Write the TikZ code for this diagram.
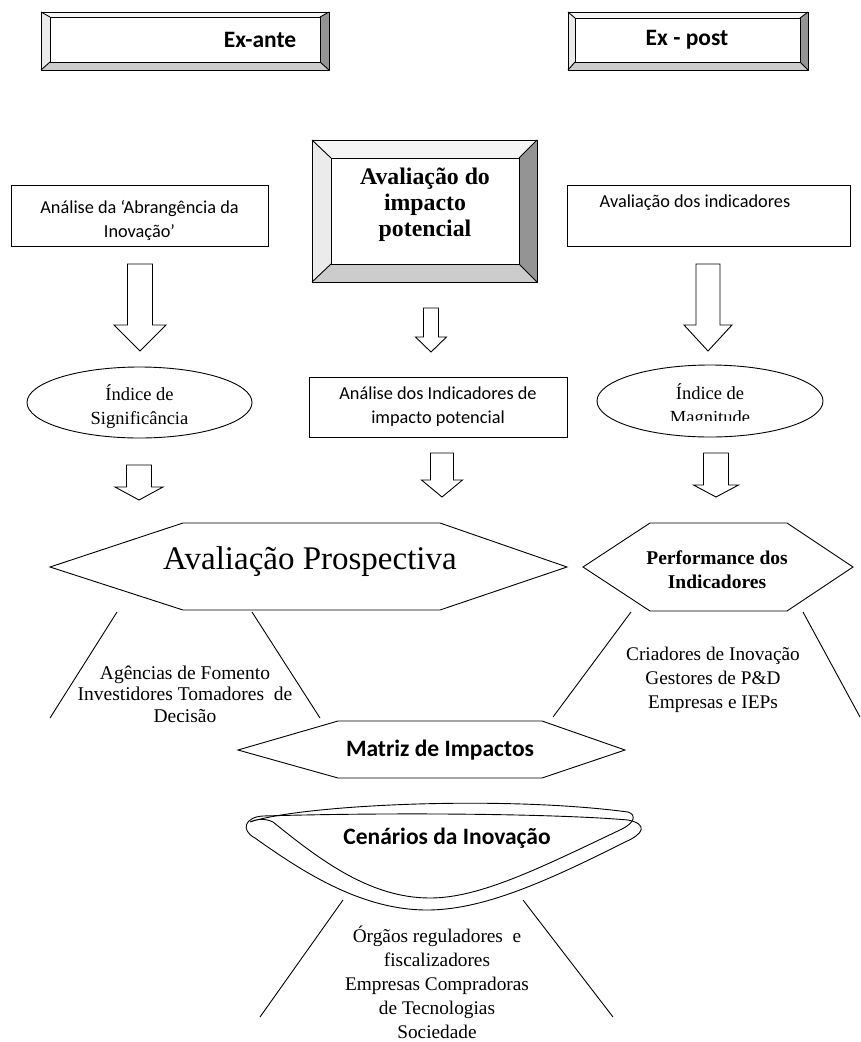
\documentclass[tikz,border=0pt]{standalone}
\usepackage{fontspec}
\setmainfont{Liberation Serif}
\newfontfamily\calibri{Carlito}
\usetikzlibrary{shapes.geometric}

% bevelled frame: outer x1 y1 x2 y2, inner x1 y1 x2 y2
\newcommand{\bevelframe}[8]{%
  \fill[beveltop] (#1,#2) -- (#3,#2) -- (#7,#6) -- (#5,#6) -- cycle;
  \fill[bevelleft] (#1,#2) -- (#5,#6) -- (#5,#8) -- (#1,#4) -- cycle;
  \fill[bevelright] (#3,#2) -- (#3,#4) -- (#7,#8) -- (#7,#6) -- cycle;
  \fill[bevelbottom] (#1,#4) -- (#3,#4) -- (#7,#8) -- (#5,#8) -- cycle;
  \draw[line] (#1,#2) rectangle (#3,#4);
  \draw[line,fill=white] (#5,#6) rectangle (#7,#8);
  \draw[line] (#1,#2) -- (#5,#6) (#3,#2) -- (#7,#6) (#1,#4) -- (#5,#8) (#3,#4) -- (#7,#8);
}
% hollow arrow: x, top, head start, tip, half shaft, half head
\newcommand{\hollowarrow}[6]{%
  \draw[line,fill=white] ({#1-#5},#2) -- ({#1+#5},#2) -- ({#1+#5},#3) -- ({#1+#6},#3)
    -- (#1,#4) -- ({#1-#6},#3) -- ({#1-#5},#3) -- cycle;
}

\begin{document}
\begin{tikzpicture}
  [ x=1pt,y=-1pt,
    line/.style={draw=black,line width=0.9pt},
    beveltop/.style={fill=white!96!black},
    bevelleft/.style={fill=white!92!black},
    bevelright/.style={fill=black!42},
    bevelbottom/.style={fill=black!20},
    box/.style={line,rectangle,inner sep=0pt},
    oval/.style={line,ellipse,inner sep=0pt},
    sanstext/.style={font=\calibri\fontsize{18.3}{24}\selectfont,align=center},
    sanstitle/.style={font=\calibri\bfseries\fontsize{23.5}{25}\selectfont,align=center},
    seriftext/.style={font=\fontsize{19.3}{24}\selectfont,align=center},
    seriftitle/.style={font=\bfseries\fontsize{23.8}{26}\selectfont,align=center}
  ]
  \useasboundingbox (0,0) rectangle (861,1042);

  % headers
  \bevelframe{41}{12}{329}{70}{50}{17}{320}{62}
  \node[sanstitle] (exante) at (260,40) {Ex-ante};
  \bevelframe{568}{12}{808}{70}{575}{18}{800}{62}
  \node[sanstitle] (expost) at (687,40) {Ex - post};

  % top row
  \node[box,minimum width=257,minimum height=61] (abrang) at (139.5,215.5) {};
  \node[sanstext] (abrangtxt) at (139.5,220) {Análise da ‘Abrangência da\\Inovação’};
  \bevelframe{312}{140}{537}{282}{331}{158}{519}{264}
  \node[seriftitle] (impacto) at (425,205) {Avaliação do\\impacto\\potencial};
  \node[box,minimum width=283,minimum height=61] (indic) at (708.5,215.5) {};
  \node[sanstext] (indictxt) at (695,203) {Avaliação dos indicadores};

  \hollowarrow{140}{264}{325}{351}{12.5}{26}
  \hollowarrow{431}{308}{337}{352}{7.5}{15.5}
  \hollowarrow{708}{264}{325}{351}{12}{24}

  % middle row
  \node[oval,minimum width=225,minimum height=71] (signif) at (139.5,402.5) {};
  \node[seriftext,font=\fontsize{18.5}{24}\selectfont] (signiftxt) at (139.5,407) {Índice de\\Significância};
  \node[box,minimum width=258,minimum height=60,sanstext] (analise) at (438,407)
    {Análise dos Indicadores de\\impacto potencial};
  \node[oval,minimum width=226,minimum height=72] (magn) at (710,401) {};
  \begin{scope}
    \clip (600,370) rectangle (820,420);
    \node[seriftext,font=\fontsize{18.5}{24}\selectfont] (magntxt) at (710,406) {Índice de\\Magnitude};
  \end{scope}

  \hollowarrow{139}{465}{487}{500}{12.5}{24}
  \hollowarrow{442}{453}{480}{497}{11.5}{20.5}
  \hollowarrow{716}{453}{485}{497}{12.5}{22.5}

  % hexagons
  \draw[line] (50,567) -- (183,523) -- (440,523) -- (567,567) -- (440,610) -- (183,610) -- cycle;
  \node[font=\fontsize{33}{36}\selectfont] (prosp) at (310,562) {Avaliação Prospectiva};
  \draw[line] (583,567) -- (650,523) -- (787,523) -- (853,567) -- (787,611) -- (650,611) -- cycle;
  \node[seriftitle,font=\bfseries\fontsize{19.5}{24}\selectfont] (perform) at (717,570)
    {Performance dos\\Indicadores};

  % stakeholders
  \draw[line] (117,612) -- (50,718);
  \draw[line] (252,612) -- (320,718);
  \node[seriftext,font=\fontsize{19.5}{21.5}\selectfont] (agencias) at (185,694)
    {Agências de Fomento\\Investidores Tomadores~ de\\Decisão};
  \draw[line] (631,612) -- (553,717);
  \draw[line] (803,612) -- (860,717);
  \node[seriftext] (criadores) at (713,680)
    {Criadores de Inovação\\Gestores de P\&D\\Empresas e IEPs};

  % bottom
  \draw[line] (238,750) -- (338,721) -- (542,721) -- (625,750) -- (542,778) -- (338,778) -- cycle;
  \node[sanstitle] (matriz) at (440,750) {Matriz de Impactos};

  \draw[line] (250,822) .. controls (300,805) and (500,795) .. (628,812)
    .. controls (637,815) and (634,823) .. (622,829)
    .. controls (540,868) and (480,898) .. (430,898)
    .. controls (370,898) and (320,860) .. (273,822)
    .. controls (265,818) and (256,819) .. (250,822) -- cycle;
  \draw[line] (263,816) .. controls (400,812) and (560,814) .. (628,820)
    .. controls (648,824) and (644,834) .. (625,842)
    .. controls (540,885) and (480,910) .. (427,910)
    .. controls (360,910) and (300,870) .. (255,838)
    .. controls (240,830) and (245,817) .. (263,816) -- cycle;
  \node[sanstitle] (cenarios) at (447,838) {Cenários da Inovação};

  \draw[line] (343,900) -- (260,1017);
  \draw[line] (523,900) -- (613,1017);
  \node[seriftext] (orgaos) at (437,982)
    {Órgãos reguladores~ e\\fiscalizadores\\Empresas Compradoras\\de Tecnologias\\Sociedade};
\end{tikzpicture}
\end{document}
